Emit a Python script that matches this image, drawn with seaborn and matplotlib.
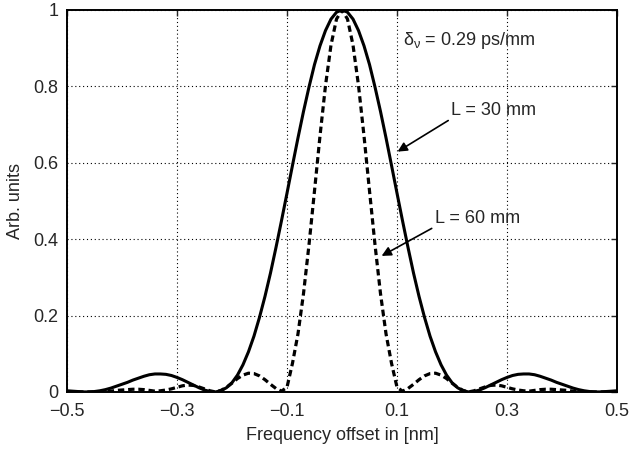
import numpy as np
import pandas as pd
import seaborn as sns
import matplotlib.pyplot as plt

# frequency offset grid [nm]
freq = np.round(np.arange(-0.5, 0.5001, 0.01), 2)

# right half (0 ... 0.5) of each curve; curves are symmetric
L30_half = [1.000, 0.994, 0.976, 0.946, 0.906, 0.857, 0.798, 0.734, 0.665, 0.593,
            0.520, 0.448, 0.378, 0.311, 0.250, 0.195, 0.146, 0.105, 0.071, 0.044,
            0.024, 0.011, 0.003, 0.000, 0.001, 0.005, 0.011, 0.018, 0.025, 0.032,
            0.038, 0.043, 0.046, 0.047, 0.047, 0.045, 0.041, 0.036, 0.031, 0.025,
            0.020, 0.015, 0.010, 0.006, 0.003, 0.001, 0.000, 0.000, 0.001, 0.002,
            0.003]
L60_half = [1.000, 0.976, 0.908, 0.802, 0.670, 0.526, 0.385, 0.257, 0.152, 0.075,
            0.012, 0.002, 0.009, 0.020, 0.032, 0.042, 0.048, 0.049, 0.044, 0.035,
            0.023, 0.012, 0.004, 0.000, 0.003, 0.008, 0.013, 0.017, 0.018, 0.016,
            0.012, 0.008, 0.005, 0.003, 0.002, 0.004, 0.006, 0.007, 0.007, 0.006,
            0.005, 0.004, 0.002, 0.001, 0.000, 0.000, 0.000, 0.000, 0.000, 0.000,
            0.000]

L30 = L30_half[:0:-1] + L30_half
L60 = L60_half[:0:-1] + L60_half

df = pd.DataFrame({'freq': freq, 'L30': L30, 'L60': L60})

xticks = [-0.5, -0.3, -0.1, 0.1, 0.3, 0.5]
xticklabels = ['\u22120.5', '\u22120.3', '\u22120.1', '0.1', '0.3', '0.5']
yticks = [0, 0.2, 0.4, 0.6, 0.8, 1]
yticklabels = ['0', '0.2', '0.4', '0.6', '0.8', '1']

sns.set_style('white')
plt.rcParams['font.family'] = ['Liberation Sans', 'DejaVu Sans']
plt.rcParams['mathtext.fontset'] = 'custom'
plt.rcParams['mathtext.rm'] = 'Liberation Sans'
plt.rcParams['mathtext.it'] = 'Liberation Sans'

fs = 13

fig = plt.figure(figsize=(6.31, 4.51), dpi=100)
ax = fig.add_axes([0.106, 0.131, 0.872, 0.847])

sns.lineplot(ax=ax, data=df, x='freq', y='L30', color='black', linewidth=2.2)
sns.lineplot(ax=ax, data=df, x='freq', y='L60', color='black', linewidth=2.3,
             linestyle=(0, (2, 1.2)))

ax.set_xlim(-0.5, 0.5)
ax.set_ylim(0, 1)
ax.set_xticks(xticks)
ax.set_xticklabels(xticklabels, fontsize=fs)
ax.set_yticks(yticks)
ax.set_yticklabels(yticklabels, fontsize=fs)
ax.set_xlabel('Frequency offset in [nm]', fontsize=fs, labelpad=5)
ax.set_ylabel('Arb. units', fontsize=fs, labelpad=7)

ax.grid(True, color='black', linestyle=(0, (1, 2.5)), linewidth=0.8)
ax.tick_params(direction='in', top=True, right=True, length=4, width=1)
ax.tick_params(axis='x', pad=8)
ax.tick_params(axis='y', pad=6)
for sp in ax.spines.values():
    sp.set_color('black')
    sp.set_linewidth(1.4)

# annotations
ax.text(0.111, 0.92, r'$\delta_\nu$ = 0.29 ps/mm', fontsize=fs, va='center')
ax.annotate('L = 30 mm', xy=(0.101, 0.629), xytext=(0.199, 0.738),
            fontsize=fs, va='center', ha='left',
            arrowprops=dict(arrowstyle='-|>', color='black', lw=1.2,
                            mutation_scale=14, shrinkA=0, shrinkB=0,
                            relpos=(0, 0)))
ax.annotate('L = 60 mm', xy=(0.072, 0.356), xytext=(0.169, 0.455),
            fontsize=fs, va='center', ha='left',
            arrowprops=dict(arrowstyle='-|>', color='black', lw=1.2,
                            mutation_scale=14, shrinkA=0, shrinkB=0,
                            relpos=(0, 0)))

fig.savefig('out.png', dpi=100)
